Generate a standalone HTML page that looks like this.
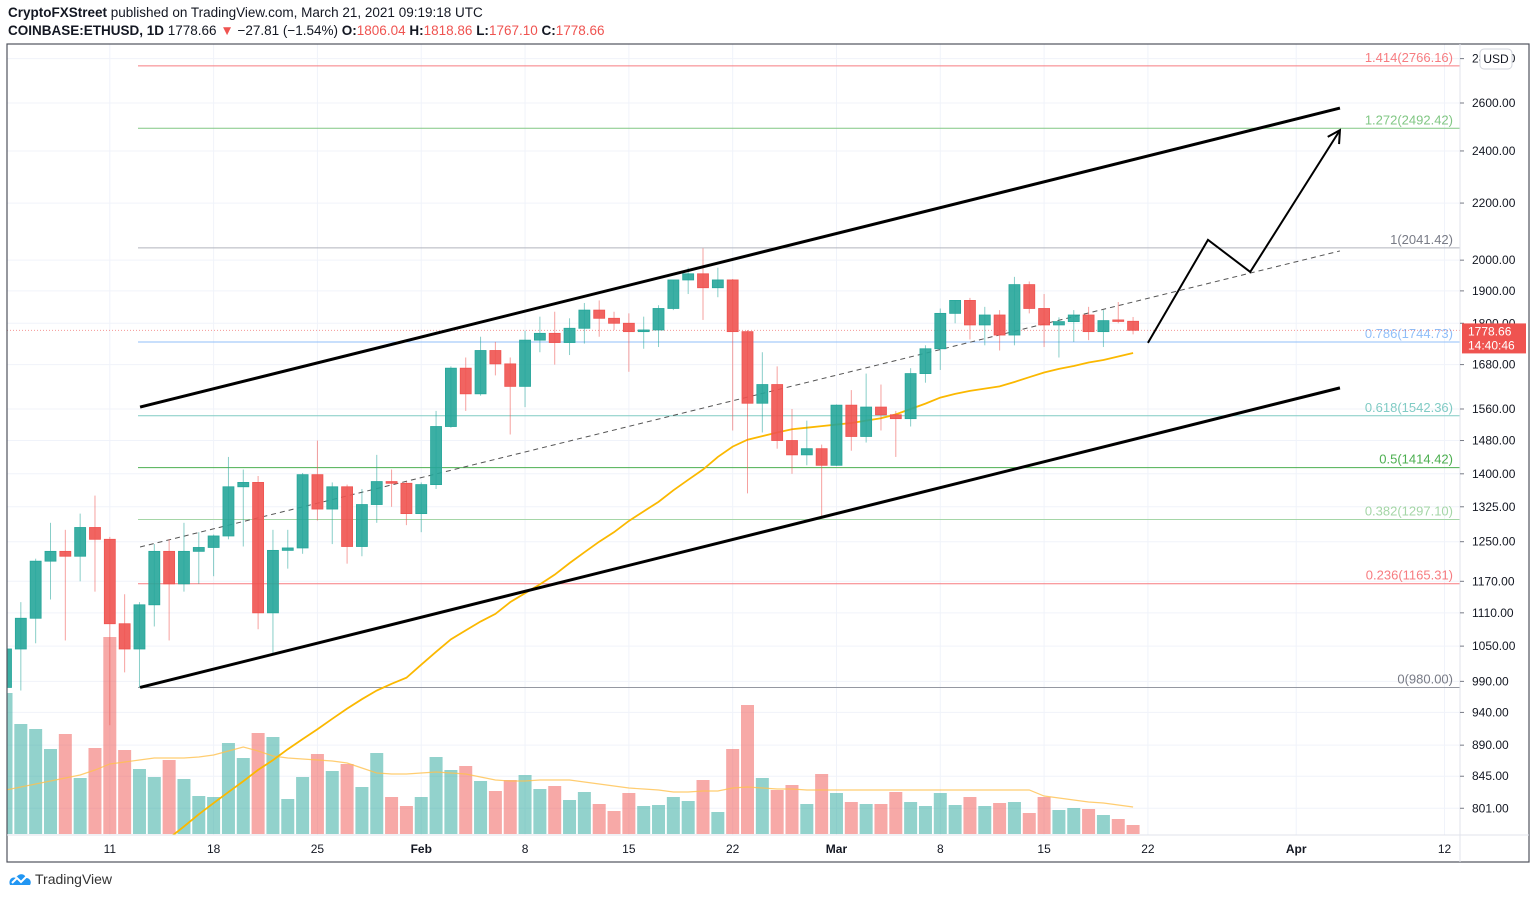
<!DOCTYPE html>
<html><head><meta charset="utf-8"><title>ETHUSD chart</title>
<style>
html,body{margin:0;padding:0;background:#fff;}
body{width:1536px;height:900px;overflow:hidden;font-family:"Liberation Sans",sans-serif;position:relative;}
.hdr{position:absolute;left:8px;font-size:13.5px;color:#131722;white-space:nowrap;}
.r{color:#ef5350}
</style></head><body>
<div class="hdr" style="top:5px"><b>CryptoFXStreet</b> published on TradingView.com, March 21, 2021 09:19:18 UTC</div>
<div class="hdr" style="top:23px"><b>COINBASE:ETHUSD, 1D</b> 1778.66 <span class="r">▼</span> −27.81 (−1.54%) <b>O:</b><span class="r">1806.04</span> <b>H:</b><span class="r">1818.86</span> <b>L:</b><span class="r">1767.10</span> <b>C:</b><span class="r">1778.66</span></div>
<svg id="chart" width="1536" height="900" style="position:absolute;left:0;top:0"></svg>
<div style="position:absolute;left:8px;top:871px;font-size:14px;color:#333;display:flex;align-items:center">
<svg width="24" height="16" viewBox="0 0 24 16"><path d="M2 14 C0 9 4 5 8 7 C10 2 17 2 18 7 C22 7 24 11 22 14 Z" fill="#2196f3"/><path d="M4 12 L9 7 L13 11 L19 5" stroke="#fff" stroke-width="2" fill="none"/></svg>
<span style="margin-left:3px">TradingView</span></div>
<script>
// ---- data ----
const dateLabels = ["11","18","25","Feb","8","15","22","Mar","8","15","22","Apr","12"];
const dateLabelIdx = [7,14,21,28,35,42,49,56,63,70,77,87,97];
const priceTicks = [2800,2600,2400,2200,2000,1900,1800,1680,1560,1480,1400,1325,1250,1170,1110,1050,990,940,890,845,801];
const opens = [980,1045,1100,1210,1230,1220,1280,1255,1090,1045,1125,1230,1165,1230,1238,1262,1370,1380,1110,1232,
1237,1398,1320,1370,1240,1330,1382,1378,1310,1375,1515,1670,1600,1720,1682,1620,1750,1770,1743,1785,1840,
1815,1800,1775,1780,1845,1935,1955,1910,1935,1775,1575,1625,1480,1445,1460,1420,1570,1490,1565,1545,1535,
1655,1725,1830,1870,1795,1825,1765,1920,1845,1795,1805,1825,1775,1810,1806];
const highs = [1050,1130,1215,1290,1275,1310,1350,1260,1145,1130,1245,1255,1290,1270,1265,1440,1410,1395,1275,1275,
1402,1480,1380,1375,1365,1445,1410,1382,1380,1555,1675,1700,1760,1745,1700,1778,1820,1835,1815,1862,1870,
1835,1830,1820,1855,1935,1975,2040,1975,1938,1780,1715,1675,1560,1530,1470,1572,1610,1655,1625,1555,1670,
1735,1845,1870,1878,1850,1840,1945,1930,1890,1818,1840,1850,1840,1865,1819];
const lows = [975,975,1055,1135,1060,1170,1150,920,1005,980,1085,1060,1150,1165,1180,1255,1240,1080,1035,1195,
1225,1295,1245,1205,1220,1290,1325,1285,1270,1365,1512,1555,1595,1650,1495,1565,1715,1680,1707,1740,1760,
1780,1660,1725,1730,1840,1890,1810,1880,1505,1355,1500,1460,1400,1420,1300,1418,1455,1475,1505,1440,1515,
1630,1665,1800,1752,1735,1720,1735,1830,1730,1700,1745,1750,1730,1800,1767];
const closes = [1045,1100,1210,1230,1220,1280,1255,1090,1045,1125,1230,1165,1230,1238,1262,1370,1380,1110,1232,1237,
1398,1320,1370,1240,1330,1382,1378,1310,1375,1515,1670,1600,1720,1682,1620,1750,1770,1743,1785,1840,1815,
1800,1775,1780,1845,1935,1955,1910,1935,1775,1575,1625,1480,1445,1460,1420,1570,1490,1565,1545,1535,1655,
1725,1830,1870,1795,1825,1765,1920,1845,1795,1805,1825,1775,1808,1806,1779];
const volumes = [141,110,105,85,100,56,86,197,84,65,57,74,55,38,37,91,76,101,97,35,
57,80,63,70,47,81,37,28,37,77,64,68,53,43,54,59,45,48,34,
42,30,23,41,28,29,37,33,54,22,85,129,56,44,49,30,60,41,32,30,30,42,32,28,41,29,37,28,31,32,21,37,24,26,25,19,15,9];
const volumeMA = [44,47,50,53,56,59,64,70,72,74,76,76,76,77,79,83,87,83,78,76,75,74,73,71,66,61,60,60,61,62,61,60,57,54,53,53,54,54,54,52,50,48,46,45,44,42,42,43,43,46,47,46,45,45,44,44,44,44,44,44,44,44,44,44,44,44,44,44,44,44,38,36,34,32,31,29,27];
const maStart = 11;
const priceMA = [762,777,793,808,823,838,854,868,884,899,914,930,946,961,975,986,996,1018,1040,1062,1078,1094,1108,1130,1147,1164,1183,1206,1228,1250,1270,1294,1315,1336,1362,1386,1410,1440,1465,1482,1491,1500,1508,1512,1516,1520,1524,1530,1536,1546,1560,1574,1590,1600,1608,1614,1620,1632,1645,1658,1668,1676,1686,1693,1703,1713];
const fibRatios = ["1.414","1.272","1","0.786","0.618","0.5","0.382","0.236","0"];
const fibPrices = [2766.16,2492.42,2041.42,1744.73,1542.36,1414.42,1297.10,1165.31,980.00];
const fibColors = ["#f77c80","#81c784","#b2b5be","#90bff9","#80cbc4","#4caf50","#a5d6a7","#f77c80","#9598a1"];
const channelTop = [[9.04,1565],[89.95,2578]];
const channelBottom = [[9.04,980],[89.95,1616]];
const channelMid = [[9.04,1239],[89.95,2031]];
const projection = [[77.0,1742],[81.05,2069],[83.9,1961],[89.95,2485]];
const lastPrice = 1778.66;

// ---- scales ----
const X0=6, DX=14.83, LN_TOP=Math.log(2600), Y_TOP=103, KY=599;
const xS = i => X0 + DX*i;
const yS = p => Y_TOP + (LN_TOP - Math.log(p))*KY;
const VBASE=834, VK=1.0;
const yV = v => VBASE - v*VK;
const L=7,T=44,R=1460,B=835,RR=1529,BB=862;

const svg=document.getElementById('chart');
const NS='http://www.w3.org/2000/svg';
function mk(tag,attrs,parent){const e=document.createElementNS(NS,tag);for(const k in attrs)e.setAttribute(k,attrs[k]);(parent||svg).appendChild(e);return e;}

const defs=mk('defs',{});
const cp=mk('clipPath',{id:'pane'},defs);
mk('rect',{x:L,y:T,width:R-L,height:B-T},cp);

// grid
const grid=mk('g',{});


priceTicks.forEach(p=>{const y=yS(p);if(y>T&&y<B)mk('line',{x1:L,x2:R,y1:y,y2:y,stroke:'#f0f3fa','stroke-width':1},grid);});
dateLabelIdx.forEach(i=>{const x=xS(i);mk('line',{x1:x,x2:x,y1:T,y2:B,stroke:'#f0f3fa','stroke-width':1},grid);});

const pane=mk('g',{'clip-path':'url(#pane)'});

// volume
const vg=mk('g',{},pane);


volumes.forEach((v,i)=>{
  const up=closes[i]>=opens[i];
  const b=mk('rect',{x:xS(i)-6.5,y:yV(v),width:13,height:VBASE-yV(v),fill:up?'#26a69a':'#ef5350','fill-opacity':0.5},vg);
  
  
});
const vma=mk('polyline',{points:volumeMA.map((v,i)=>xS(i)+','+yV(v)).join(' '),fill:'none',stroke:'#ffc14d','stroke-width':1.2,'stroke-opacity':0.8},pane);



// fib levels
const fg=mk('g',{},pane);


fibPrices.forEach((p,k)=>{
  const y=yS(p);
  mk('line',{x1:138,x2:R,y1:y,y2:y,stroke:fibColors[k],'stroke-width':1},fg);
  const t=mk('text',{x:1453,y:y-4,'text-anchor':'end','font-size':13,fill:fibColors[k]==='#b2b5be'||fibColors[k]==='#9598a1'?'#787b86':fibColors[k]},fg);
  t.textContent=fibRatios[k]+'('+p.toFixed(2)+')';
  
  
});

// last price dotted line
const lp=mk('line',{x1:L,x2:R,y1:yS(lastPrice),y2:yS(lastPrice),stroke:'#ef5350','stroke-width':1,'stroke-dasharray':'1,2','stroke-opacity':0.6},pane);



// price MA
const pma=mk('polyline',{points:priceMA.map((v,k)=>xS(k+maStart)+','+yS(v)).join(' '),fill:'none',stroke:'#fbb800','stroke-width':1.8},pane);



// channel lines
function seg(pts,attrs,name){const e=mk('polyline',Object.assign({points:pts.map(q=>xS(q[0])+','+yS(q[1])).join(' '),fill:'none'},attrs),pane);return e;}
seg(channelMid,{stroke:'#555','stroke-width':1,'stroke-dasharray':'5,4'},'channel-midline');

// candles
const cg=mk('g',{},pane);


opens.forEach((o,i)=>{
  const c=closes[i],up=c>=o,col=up?'#26a69a':'#ef5350',x=xS(i);
  const g=mk('g',{},cg);
  
  
  mk('line',{x1:x,x2:x,y1:yS(highs[i]),y2:yS(lows[i]),stroke:col,'stroke-width':1,'stroke-opacity':0.55},g);
  const yt=yS(Math.max(o,c)),yb=yS(Math.min(o,c));
  mk('rect',{x:x-5.5,y:yt,width:11,height:Math.max(1.5,yb-yt),fill:col,'fill-opacity':0.9,stroke:col,'stroke-width':0.8},g);
});

seg(channelTop,{stroke:'#000','stroke-width':3},'channel-upper-line');
seg(channelBottom,{stroke:'#000','stroke-width':3},'channel-lower-line');
seg(projection,{stroke:'#000','stroke-width':2},'projection-path');
// arrow head
const pe=projection[projection.length-1],pb=projection[projection.length-2];
const ex=xS(pe[0]),ey=yS(pe[1]),bx=xS(pb[0]),by=yS(pb[1]);
const ang=Math.atan2(ey-by,ex-bx),hl=14;
const ah=mk('polyline',{points:`${ex-hl*Math.cos(ang-0.5)},${ey-hl*Math.sin(ang-0.5)} ${ex},${ey} ${ex-hl*Math.cos(ang+0.5)},${ey-hl*Math.sin(ang+0.5)}`,fill:'none',stroke:'#000','stroke-width':2},pane);



// frame
mk('rect',{x:L,y:T,width:RR-L,height:BB-T,fill:'none',stroke:'#50535e','stroke-width':1.2});
mk('line',{x1:R,x2:R,y1:T,y2:BB,stroke:'#e0e3eb','stroke-width':1});
mk('line',{x1:L,x2:RR,y1:B,y2:B,stroke:'#e0e3eb','stroke-width':1});

// price axis
const pa=mk('g',{});


priceTicks.forEach(p=>{const y=yS(p);if(y<T||y>B)return;
  mk('line',{x1:R,x2:R+4,y1:y,y2:y,stroke:'#787b86'},pa);
  const t=mk('text',{x:R+12,y:y+4,'font-size':12,fill:'#131722'},pa);t.textContent=p.toFixed(2);
  
  });
// USD badge
const ub=mk('g',{});


mk('rect',{x:1480,y:49,width:32,height:20,rx:4,fill:'#fff',stroke:'#d1d4dc'},ub);
const ut=mk('text',{x:1496,y:63,'text-anchor':'middle','font-size':12,fill:'#131722'},ub);ut.textContent='USD';
// last price label
const lg=mk('g',{});


const ly=yS(lastPrice);
mk('rect',{x:R+2,y:ly-7,width:64,height:30,fill:'#ef5350'},lg);
const l1=mk('text',{x:R+8,y:ly+5,'font-size':12,fill:'#fff'},lg);l1.textContent=lastPrice.toFixed(2);
const l2=mk('text',{x:R+8,y:ly+19,'font-size':12,fill:'#fff'},lg);l2.textContent='14:40:46';

// time axis
const ta=mk('g',{});


dateLabels.forEach((d,k)=>{const x=xS(dateLabelIdx[k]);if(x>R)return;
  const bold=(d==='Feb'||d==='Mar'||d==='Apr');
  const t=mk('text',{x:x,y:853,'text-anchor':'middle','font-size':12,fill:'#131722','font-weight':bold?'bold':'normal'},ta);t.textContent=d;
  
  });
</script>
</body></html>
